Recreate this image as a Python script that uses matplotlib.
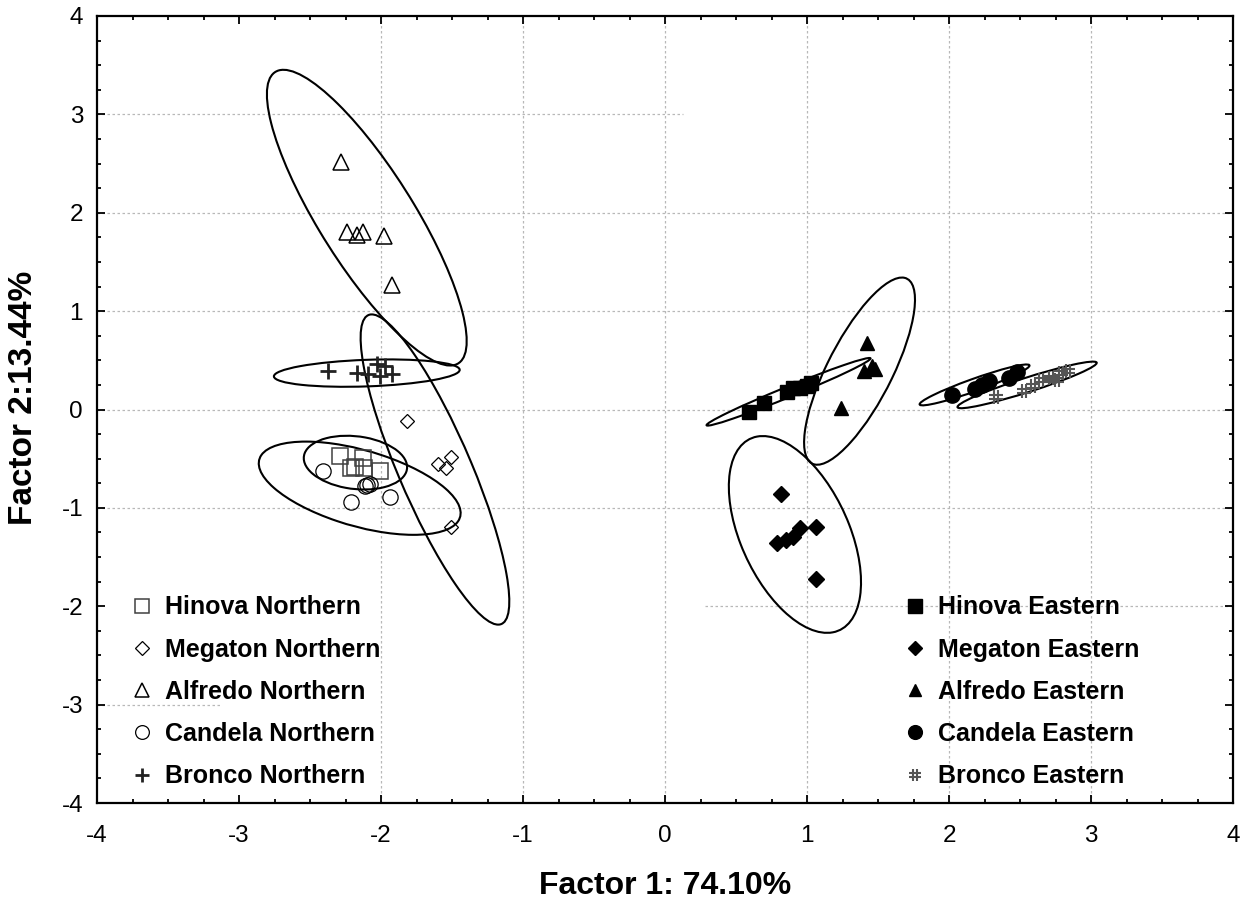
import matplotlib
matplotlib.use('Agg')
import matplotlib.pyplot as plt
from matplotlib.patches import Ellipse
from matplotlib.path import Path
from matplotlib.ticker import MultipleLocator

plt.rcParams['font.family'] = ['Liberation Sans', 'DejaVu Sans']
plt.rcParams['axes.unicode_minus'] = False

# Точки (фактор 1, фактор 2) для кожної групи
hinova_n_x = [-2.29, -2.21, -2.18, -2.13, -2.12, -2.01]
hinova_n_y = [-0.47, -0.59, -0.58, -0.49, -0.59, -0.62]
megaton_n_x = [-1.82, -1.60, -1.54, -1.51, -1.51]
megaton_n_y = [-0.12, -0.55, -0.59, -0.48, -1.19]
alfredo_n_x = [-2.28, -2.24, -2.17, -2.13, -1.98, -1.92]
alfredo_n_y = [2.52, 1.80, 1.77, 1.80, 1.76, 1.27]
candela_n_x = [-2.41, -2.21, -2.11, -2.10, -2.08, -1.94]
candela_n_y = [-0.63, -0.94, -0.78, -0.77, -0.76, -0.89]
bronco_n_x = [-2.37, -2.17, -2.09, -2.03, -2.01, -1.97, -1.92]
bronco_n_y = [0.39, 0.37, 0.36, 0.46, 0.34, 0.44, 0.36]

hinova_e_x = [0.59, 0.70, 0.86, 0.90, 0.95, 1.00, 1.03]
hinova_e_y = [-0.03, 0.07, 0.18, 0.22, 0.22, 0.24, 0.27]
megaton_e_x = [0.82, 0.79, 0.85, 0.90, 0.95, 1.06, 1.06]
megaton_e_y = [-0.86, -1.36, -1.33, -1.30, -1.20, -1.19, -1.72]
alfredo_e_x = [1.42, 1.40, 1.46, 1.48, 1.24]
alfredo_e_y = [0.68, 0.39, 0.44, 0.41, 0.02]
candela_e_x = [2.02, 2.18, 2.23, 2.28, 2.42, 2.48]
candela_e_y = [0.15, 0.21, 0.25, 0.29, 0.32, 0.38]
bronco_e_x = [2.33, 2.53, 2.59, 2.65, 2.72, 2.76, 2.79, 2.84]
bronco_e_y = [0.13, 0.19, 0.24, 0.30, 0.32, 0.30, 0.37, 0.39]

# Еліпси: центр x, центр y, ширина, висота, кут
ell_hinova_n = [-2.18, -0.54, 0.74, 0.53, -15]
ell_megaton_n = [-1.62, -0.61, 3.28, 0.53, -73.8]
ell_alfredo_n = [-2.10, 1.95, 3.24, 0.72, -67.5]
ell_candela_n = [-2.15, -0.80, 1.54, 0.74, -26]
ell_bronco_n = [-2.10, 0.37, 1.31, 0.27, 3]
ell_hinova_e = [0.87, 0.18, 1.34, 0.10, 30.6]
ell_megaton_e = [0.915, -1.27, 2.06, 0.79, -75]
ell_alfredo_e = [1.37, 0.39, 2.0, 0.48, 71.5]
ell_candela_e = [2.18, 0.25, 0.87, 0.12, 27.5]
ell_bronco_e = [2.55, 0.25, 1.08, 0.14, 25]

labels_n = ['Hinova Northern', 'Megaton Northern', 'Alfredo Northern',
            'Candela Northern', 'Bronco Northern']
labels_e = ['Hinova Eastern', 'Megaton Eastern', 'Alfredo Eastern',
            'Candela Eastern', 'Bronco Eastern']

# маркер "#" для Bronco Eastern
hash_marker = Path([(-1, 0.3), (1, 0.3), (-1, -0.3), (1, -0.3),
                    (0.3, -1), (0.3, 1), (-0.3, -1), (-0.3, 1)],
                   [Path.MOVETO, Path.LINETO] * 4)

fig = plt.figure(figsize=(12.5, 9.08), dpi=100)
ax = fig.add_axes([0.0776, 0.1156, 0.9088, 0.8668])
ax.set_xlim(-4, 4)
ax.set_ylim(-4, 4)

# Сітка (як в оригіналі, частково)
grid_kw = dict(color='#b8b8b8', linestyle=(0, (2, 2)), linewidth=0.9, zorder=0)
for gx in [-2, -1, 0, 1, 2, 3]:
    ax.vlines(gx, -4, 4, **grid_kw)
for gy, x0, x1 in [(3, -4, 0.13), (2, -4, 4), (1, -4, 4), (0, -4, 4),
                   (-1, -4, 4), (-2, 0.28, 4), (-3, -4, -3.13)]:
    ax.hlines(gy, x0, x1, **grid_kw)

# Еліпси
for e in [ell_hinova_n, ell_megaton_n, ell_alfredo_n, ell_candela_n, ell_bronco_n,
          ell_hinova_e, ell_megaton_e, ell_alfredo_e, ell_candela_e, ell_bronco_e]:
    ax.add_patch(Ellipse((e[0], e[1]), e[2], e[3], angle=e[4], fill=False,
                         edgecolor='black', linewidth=1.5, zorder=2))

# Точки
h = []
h += ax.plot(hinova_n_x, hinova_n_y, 's', ms=11, mfc='none', mec='#404040', mew=1.1, label=labels_n[0])
h += ax.plot(megaton_n_x, megaton_n_y, 'D', ms=7.5, mfc='none', mec='black', mew=0.9, label=labels_n[1])
h += ax.plot(alfredo_n_x, alfredo_n_y, '^', ms=11, mfc='none', mec='black', mew=1.1, label=labels_n[2])
h += ax.plot(candela_n_x, candela_n_y, 'o', ms=11, mfc='none', mec='black', mew=0.9, label=labels_n[3])
h += ax.plot(bronco_n_x, bronco_n_y, '+', ms=11, mec='#222222', mew=2.0, label=labels_n[4])

he = []
he += ax.plot(hinova_e_x, hinova_e_y, 's', ms=10.5, color='black', label=labels_e[0])
he += ax.plot(megaton_e_x, megaton_e_y, 'D', ms=8, color='black', label=labels_e[1])
he += ax.plot(alfredo_e_x, alfredo_e_y, '^', ms=10, color='black', label=labels_e[2])
he += ax.plot(candela_e_x, candela_e_y, 'o', ms=11, color='black', label=labels_e[3])
he += ax.plot(bronco_e_x, bronco_e_y, marker=hash_marker, linestyle='none', ms=10,
              mec='#555555', mew=1.5, label=labels_e[4])

# Легенди
leg_kw = dict(frameon=False, prop={'size': 18, 'weight': 'bold'}, handlelength=0.95,
              handletextpad=0.45, labelspacing=0.73, borderpad=0, borderaxespad=0,
              markerscale=0.9, loc='upper left')
leg1 = ax.legend(handles=h, bbox_to_anchor=(0.029, 0.264), **leg_kw)
ax.add_artist(leg1)
ax.legend(handles=he, bbox_to_anchor=(0.7095, 0.264), **leg_kw)

# Осі
ax.xaxis.set_major_locator(MultipleLocator(1))
ax.yaxis.set_major_locator(MultipleLocator(1))
ax.xaxis.set_minor_locator(MultipleLocator(0.25))
ax.yaxis.set_minor_locator(MultipleLocator(0.25))
ax.tick_params(which='both', direction='in', top=True, right=True, width=1.3)
ax.tick_params(which='major', length=6, labelsize=17.5)
ax.tick_params(axis='x', which='major', pad=16)
ax.tick_params(axis='y', which='major', pad=10)
ax.tick_params(which='minor', length=3)
for s in ax.spines.values():
    s.set_linewidth(1.6)

ax.set_xlabel('Factor 1: 74.10%', fontsize=23, fontweight='bold')
ax.set_ylabel('Factor 2:13.44%', fontsize=24, fontweight='bold')
ax.xaxis.set_label_coords(0.5, -0.086)
ax.yaxis.set_label_coords(-0.051, 0.515)

fig.savefig('out.png', dpi=100)
